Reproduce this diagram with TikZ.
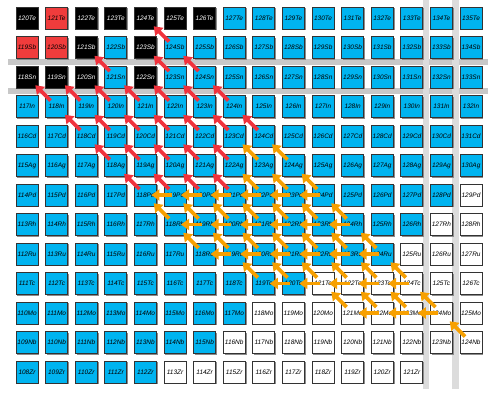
\documentclass[tikz,border=0pt]{standalone}
\usepackage{fontspec}
\setmainfont{Liberation Sans}
\usetikzlibrary{arrows.meta,shadows}
\definecolor{nucblue}{RGB}{0,180,240}
\definecolor{nucred}{RGB}{240,60,60}
\definecolor{arrred}{RGB}{240,50,60}
\definecolor{arrorange}{RGB}{247,160,0}
\definecolor{barh}{RGB}{200,200,200}
\definecolor{barv}{RGB}{220,220,220}
\tikzset{
  nuc/.style={draw=black!80, line width=0.8bp, minimum size=22bp, inner sep=0pt,
    font=\fontsize{6.5}{7}\selectfont\itshape,
    drop shadow={shadow xshift=1.3bp, shadow yshift=-1.3bp, fill=black!45, opacity=1}},
  nS/.style={nuc, fill=black, text=white},
  nR/.style={nuc, fill=nucred},
  nC/.style={nuc, fill=nucblue},
  nW/.style={nuc, fill=white},
  betar/.style={draw=arrred, line width=3.7bp, -{Triangle[width=11bp,length=8bp]},
    shorten <=8.4bp, shorten >=11.7bp},
  betao/.style={betar, draw=arrorange},
  neut/.style={draw=arrorange, line width=3.7bp, -{Triangle[width=11bp,length=8bp]},
    shorten <=3bp, shorten >=6bp},
}
\begin{document}
\begin{tikzpicture}[x=1bp,y=1bp]
\useasboundingbox (0,0) rectangle (498,-399);
% shell closures Z=50 and N=82
\fill[barh] (8,-59) rectangle (488,-65);
\fill[barh] (8,-88) rectangle (488,-94);
\fill[barv] (423,0) rectangle (429,-389);
\fill[barv] (452,0) rectangle (459,-389);
% nuclide boxes: S stable, R red, C blue, W white
\foreach \el/\rw/\amin/\kinds in {
  Te/0/120/{S,R,S,S,S,S,S,C,C,C,C,C,C,C,C,C},
  Sb/1/119/{R,R,S,C,S,C,C,C,C,C,C,C,C,C,C,C},
  Sn/2/118/{S,S,S,C,S,C,C,C,C,C,C,C,C,C,C,C},
  In/3/117/{C,C,C,C,C,C,C,C,C,C,C,C,C,C,C,C},
  Cd/4/116/{C,C,C,C,C,C,C,C,C,C,C,C,C,C,C,C},
  Ag/5/115/{C,C,C,C,C,C,C,C,C,C,C,C,C,C,C,C},
  Pd/6/114/{C,C,C,C,C,C,C,C,C,C,C,C,C,C,C,W},
  Rh/7/113/{C,C,C,C,C,C,C,C,C,C,C,C,C,C,W,W},
  Ru/8/112/{C,C,C,C,C,C,C,C,C,C,C,C,C,W,W,W},
  Tc/9/111/{C,C,C,C,C,C,C,C,C,C,W,W,W,W,W,W},
  Mo/10/110/{C,C,C,C,C,C,C,C,W,W,W,W,W,W,W,W},
  Nb/11/109/{C,C,C,C,C,C,C,W,W,W,W,W,W,W,W,W},
  Zr/12/108/{C,C,C,C,C,W,W,W,W,W,W,W,W,W}}{
  \foreach \kind [count=\col from 0] in \kinds {
    \pgfmathtruncatemacro{\mass}{\amin+\col}
    \node[n\kind] (\el\mass) at ({27+29.6*\col},{-18-29.5*\rw}) {\mass\el};
  }
}
% beta decay towards stability
\draw[betar] (Sb124.center) -- (Te124.center);
\foreach \m in {121,123,124} \draw[betar] (Sn\m.center) -- (Sb\m.center);
\foreach \m in {118,...,124} \draw[betar] (In\m.center) -- (Sn\m.center);
\foreach \m in {118,...,124} \draw[betar] (Cd\m.center) -- (In\m.center);
\foreach \m in {118,...,122} \draw[betar] (Ag\m.center) -- (Cd\m.center);
\foreach \m in {118,...,121} \draw[betar] (Pd\m.center) -- (Ag\m.center);
% beta decay and neutron emission
\foreach \m in {123,124} \draw[betao] (Ag\m.center) -- (Cd\m.center);
\foreach \m in {122,123,124} \draw[betao] (Pd\m.center) -- (Ag\m.center);
\foreach \m in {118,...,124} \draw[betao] (Rh\m.center) -- (Pd\m.center);
\foreach \m in {118,...,124} \draw[betao] (Ru\m.center) -- (Rh\m.center);
\foreach \m in {119,...,124} \draw[betao] (Tc\m.center) -- (Ru\m.center);
\foreach \m in {121,...,124} \draw[betao] (Mo\m.center) -- (Tc\m.center);
\draw[betao] (Nb124.center) -- (Mo124.center);
\foreach \el/\lo/\hi in {Pd/119/124,Rh/119/124,Ru/119/124,Tc/120/124,Mo/122/124}{
  \foreach \m in {\lo,...,\hi}{
    \pgfmathtruncatemacro{\p}{\m-1}
    \draw[neut] (\el\m.center) -- (\el\p.center);
  }
}
\end{tikzpicture}
\end{document}
